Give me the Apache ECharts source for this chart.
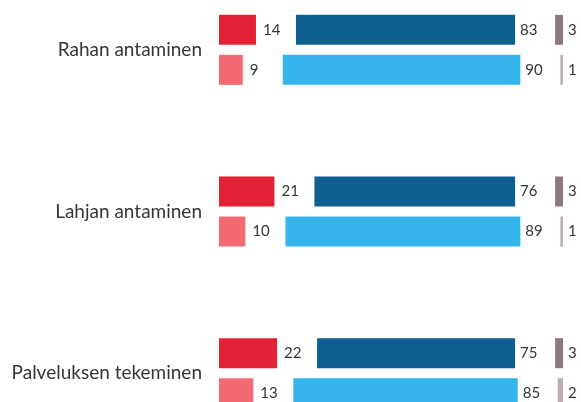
<!DOCTYPE html>
<html>
<head>
<meta charset="utf-8">
<script src="https://cdn.jsdelivr.net/npm/echarts@6/dist/echarts.min.js"></script>
<style>
  html, body { margin: 0; padding: 0; background: #fff; overflow: hidden; }
  /* the bottom group runs off the picture, so the canvas is taller than the window */
  #chart { position: absolute; left: 0; top: -31px; width: 581px; height: 485px; }
</style>
</head>
<body>
<div id="chart"></div>
<script>
// categories (top to bottom)
var categories = ['Rahan antaminen', 'Lahjan antaminen', 'Palveluksen tekeminen'];

// upper row of each group
var redDark = [14, 21, 22];
var blueDark = [83, 76, 75];
var greyDark = [3, 3, 3];

// lower row of each group
var redLight = [9, 10, 13];
var blueLight = [90, 89, 85];
var greyLight = [1, 1, 2];

// blank room between the segments, in axis units (holds the value labels)
var GAP = 15.15;
var gapData = categories.map(function () { return GAP; });

var chart = echarts.init(document.getElementById('chart'));

var font = 'Lato';
var textColor = '#363636';

function seg(name, stack, data, color, dist) {
  return {
    name: name,
    type: 'bar',
    stack: stack,
    data: data,
    barWidth: 30,
    barGap: '33.3%',
    itemStyle: { color: color },
    label: {
      show: true,
      position: 'right',
      distance: dist,
      color: textColor,
      fontFamily: font,
      fontSize: 15
    },
    animation: false
  };
}

function spacer(stack) {
  return {
    type: 'bar',
    stack: stack,
    data: gapData,
    barWidth: 30,
    barGap: '33.3%',
    silent: true,
    itemStyle: { color: 'transparent' },
    animation: false
  };
}

chart.setOption({
  animation: false,
  grid: {
    left: 219,
    right: 18,
    top: 0,
    bottom: 0
  },
  xAxis: {
    type: 'value',
    min: 0,
    max: 100 + 2 * GAP,
    show: false
  },
  yAxis: {
    type: 'category',
    inverse: true,
    data: categories,
    axisLine: { show: false },
    axisTick: { show: false },
    splitLine: { show: false },
    axisLabel: {
      margin: 17,
      color: textColor,
      fontFamily: font,
      fontSize: 19
    }
  },
  series: [
    seg('a1', 'dark', redDark, '#e32236', 7),
    spacer('dark'),
    seg('b1', 'dark', blueDark, '#0e5e8f', 5),
    spacer('dark'),
    seg('c1', 'dark', greyDark, '#8c7a80', 5),

    seg('a2', 'light', redLight, '#f46a73', 7),
    spacer('light'),
    seg('b2', 'light', blueLight, '#36b5ec', 5),
    spacer('light'),
    seg('c2', 'light', greyLight, '#c0b0ac', 5)
  ]
});
</script>
</body>
</html>
